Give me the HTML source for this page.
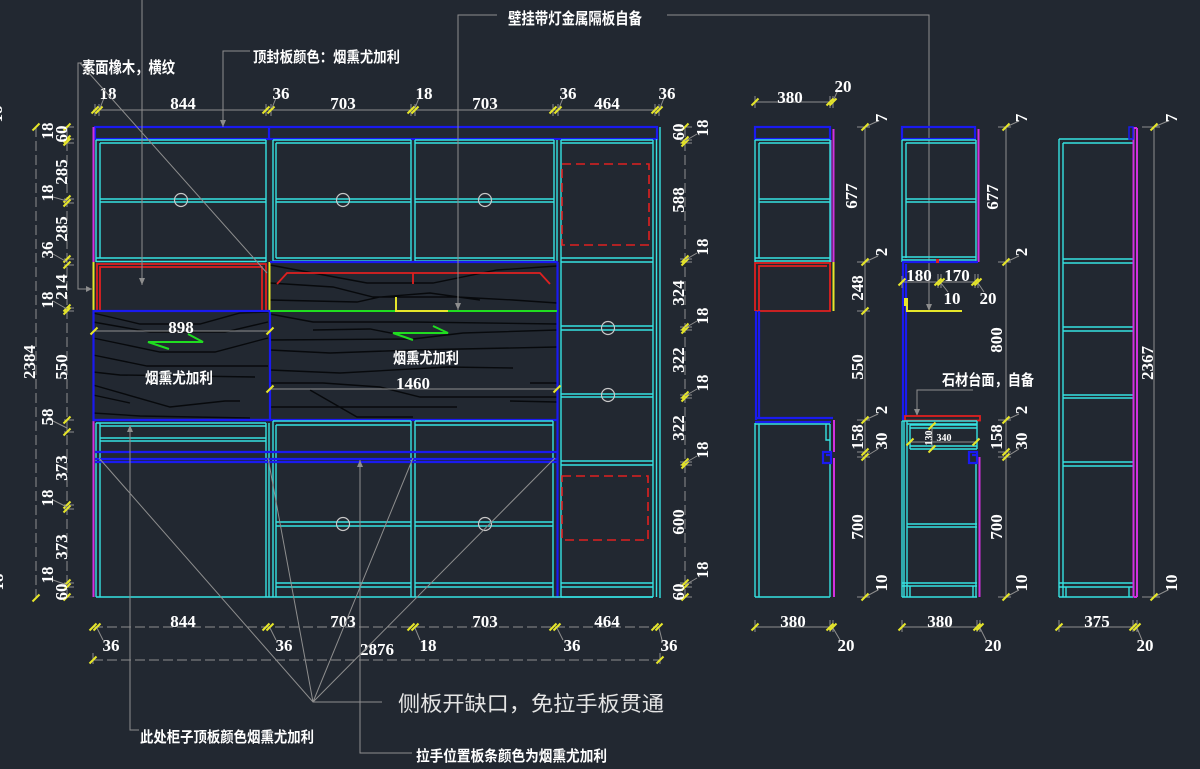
<!DOCTYPE html>
<html><head><meta charset="utf-8"><style>
html,body{margin:0;padding:0;background:#222831;}
svg{display:block}
.c{stroke:#35e2e2;stroke-width:1.4;fill:none}
.b{stroke:#1a1af0;stroke-width:2.2;fill:none}
.m{stroke:#d22fe0;stroke-width:2;fill:none}
.v{stroke:#9a5cf0;stroke-width:1.2;fill:none}
.r{stroke:#e02020;stroke-width:1.8;fill:none}
.rd{stroke:#e02020;stroke-width:1.6;fill:none;stroke-dasharray:9 5}
.y{stroke:#e6e62a;stroke-width:2;fill:none}
.g{stroke:#20dd20;stroke-width:2;fill:none}
.gr{stroke:#8e8e8e;stroke-width:1;fill:none}
.gd{stroke:#8e8e8e;stroke-width:1;fill:none;stroke-dasharray:10 4}
.k{stroke:#07090c;stroke-width:1.4;fill:none}
.h{stroke:#c8c8c8;stroke-width:1.2;fill:none}
text{fill:#fff}
.n{font-family:"Liberation Serif",serif;font-size:17px;font-weight:bold}
.ns{font-family:"Liberation Serif",serif;font-size:10px;font-weight:bold}
.z{font-family:"Liberation Sans","Noto Sans CJK SC",sans-serif;font-weight:bold;font-size:15px}
.zl{font-family:"Liberation Sans","Noto Sans CJK SC",sans-serif;font-size:21px;fill:#e4e4e4}
</style></head><body>
<svg width="1200" height="769" viewBox="0 0 1200 769">
<defs><path id="t" d="M-3.5,3.5L3.5,-3.5" stroke="#e6e62a" stroke-width="2"/></defs>
<rect width="1200" height="769" fill="#222831"/>

<!-- ============ MAIN CABINET ============ -->
<path class="k" d="M93,313L140,324L200,324L240,313L268,312M93,322L150,332L225,332L268,322M93,338L160,352L215,352L268,338M93,355L147,366L268,366M93,372L120,375L255,377M93,385L170,407L225,401L240,401M93,395L130,403M93,413L140,416L250,418"/>
<path class="k" d="M270,265L367,283L433,283L497,270L557,266M270,283L333,287L373,297L457,297L513,300L557,303M270,300L357,302L380,297L430,293L480,300M270,314L313,322L413,322L557,324M313,330L370,329L396,334M270,340L413,339L463,333L557,330M270,350L330,353L413,350L557,347M270,370L340,373L447,367L513,368M270,383L323,383L380,387L420,397L557,397M270,407L357,407L457,407M310,390L357,417L413,417M510,401L557,402M530,383L557,383"/>

<rect class="b" x="95" y="127" width="562" height="12"/>
<line class="b" x1="269" y1="127" x2="269" y2="139"/>
<line class="m" x1="93.5" y1="127" x2="93.5" y2="262"/>
<line class="m" x1="93.5" y1="420" x2="93.5" y2="597"/>
<path class="c" d="M653,140V597M656.5,139V597M660,127V598"/>

<path class="c" d="M96,140V262M100,143V258M96,140H266M100,143H266M100,199H266M100,202H266M96,258H266M96,261.5H266M266,140V262M273,140V262"/>
<path class="c" d="M273,140H411M276,143H411M276,199H411M276,202H411M276,258H411M273,261H411M276,143V258M411,140V262M415,140V262M415,140H554M415,143H554M415,199H554M415,202H554M415,258H554M415,261H554M554,140V262M557,140V262"/>
<path class="c" d="M561,140V597M561,140H653M561,143H653M561,258H653M561,262H653M561,326H653M561,330H653M561,394H653M561,397H653M561,461H653M561,465H653M561,583H653M561,587H653M561,597H653"/>
<rect class="rd" x="562" y="164" width="87" height="81"/>
<rect class="rd" x="562" y="476" width="86" height="64"/>
<circle class="h" cx="181" cy="200" r="6.5"/>
<circle class="h" cx="343" cy="200" r="6.5"/>
<circle class="h" cx="485" cy="200" r="6.5"/>
<circle class="h" cx="608" cy="328" r="6.5"/>
<circle class="h" cx="608" cy="395" r="6.5"/>

<line class="y" x1="93.5" y1="262" x2="93.5" y2="311"/>
<line class="y" x1="269.5" y1="262" x2="269.5" y2="311"/>
<path class="r" d="M97,311V264H266V311M100,311V267H262V311"/>
<rect class="b" x="93.5" y="311" width="176.5" height="109"/>
<line class="b" x1="270" y1="262" x2="558" y2="262" stroke-width="3"/>
<line class="b" x1="557.5" y1="262" x2="557.5" y2="598" stroke-width="2.6"/>
<line class="b" x1="93" y1="420" x2="558" y2="420"/>
<line class="g" x1="270" y1="311" x2="557" y2="311"/>
<path class="r" d="M277,284L287,273L540,273L550,284M413,273V284"/>
<path class="y" d="M396,297V311H448"/>
<path class="g" d="M188,334L203,342L148,342L169,349"/>
<path class="g" d="M433,326L448,333L393,333L413,340"/>
<text class="z" x="145" y="383" textLength="68" lengthAdjust="spacingAndGlyphs">烟熏尤加利</text>
<text class="z" x="393" y="363" textLength="66" lengthAdjust="spacingAndGlyphs">烟熏尤加利</text>
<line class="gr" x1="93" y1="331" x2="270" y2="331"/>
<use href="#t" x="94" y="331"/><use href="#t" x="270" y="331"/>
<text class="n" x="181" y="333" text-anchor="middle">898</text>
<line class="gr" x1="270" y1="389" x2="557" y2="389"/>
<use href="#t" x="270" y="389"/><use href="#t" x="557" y="389"/>
<text class="n" x="413" y="389" text-anchor="middle">1460</text>

<path class="c" d="M96,423V597M100,423V597M96,423H266M100,426H266M100,438H266M100,441H266M266,423V597M269,423V597M96,597H653"/>
<path class="c" d="M273,421V597M276,425V597M273,421H411M276,425H411M276,522H411M276,526H411M276,583H411M276,587H411M411,421V597M415,421V597M415,421H553M415,425H553M415,522H553M415,526H553M415,583H553M415,587H553M553,421V597"/>
<path class="b" d="M95,452H557M95,459H557M95,462H557" stroke-width="1.8"/>
<circle class="h" cx="343" cy="524" r="6.5"/>
<circle class="h" cx="485" cy="524" r="6.5"/>

<line class="gr" x1="93" y1="110" x2="660" y2="110"/>
<path class="gr" d="M95,104V116M99,104V116M266,104V116M271,104V116M411,104V116M415,104V116M553,104V116M558,104V116M655,104V116M659,104V116"/>
<use href="#t" x="95" y="110"/><use href="#t" x="99" y="110"/><use href="#t" x="266" y="110"/><use href="#t" x="271" y="110"/><use href="#t" x="411" y="110"/><use href="#t" x="415" y="110"/><use href="#t" x="553" y="110"/><use href="#t" x="558" y="110"/><use href="#t" x="655" y="110"/><use href="#t" x="659" y="110"/>
<text class="n" x="183" y="109" text-anchor="middle">844</text>
<text class="n" x="343" y="109" text-anchor="middle">703</text>
<text class="n" x="485" y="109" text-anchor="middle">703</text>
<text class="n" x="607" y="109" text-anchor="middle">464</text>
<path class="gr" d="M100,108L104,98M272,108L276,98M415,108L419,98M559,108L563,98M660,108L664,98"/>
<text class="n" x="108" y="99" text-anchor="middle">18</text>
<text class="n" x="281" y="99" text-anchor="middle">36</text>
<text class="n" x="424" y="99" text-anchor="middle">18</text>
<text class="n" x="568" y="99" text-anchor="middle">36</text>
<text class="n" x="667" y="99" text-anchor="middle">36</text>

<line class="gd" x1="93" y1="627" x2="660" y2="627"/>
<use href="#t" x="93" y="627"/><use href="#t" x="97" y="627"/><use href="#t" x="266" y="627"/><use href="#t" x="270" y="627"/><use href="#t" x="411" y="627"/><use href="#t" x="415" y="627"/><use href="#t" x="553" y="627"/><use href="#t" x="557" y="627"/><use href="#t" x="655" y="627"/><use href="#t" x="659" y="627"/>
<text class="n" x="183" y="627" text-anchor="middle">844</text>
<text class="n" x="343" y="627" text-anchor="middle">703</text>
<text class="n" x="485" y="627" text-anchor="middle">703</text>
<text class="n" x="607" y="627" text-anchor="middle">464</text>
<path class="gr" d="M97,628L103,640M270,628L276,640M415,628L420,640M557,628L563,640M659,628L662,640"/>
<text class="n" x="111" y="651" text-anchor="middle">36</text>
<text class="n" x="284" y="651" text-anchor="middle">36</text>
<text class="n" x="428" y="651" text-anchor="middle">18</text>
<text class="n" x="572" y="651" text-anchor="middle">36</text>
<text class="n" x="669" y="651" text-anchor="middle">36</text>
<line class="gd" x1="93" y1="660" x2="660" y2="660"/>
<line class="gr" x1="93" y1="653" x2="93" y2="664"/><line class="gr" x1="660" y1="653" x2="660" y2="664"/>
<use href="#t" x="93" y="660"/><use href="#t" x="660" y="660"/>
<text class="n" x="377" y="655" text-anchor="middle">2876</text>

<line class="gd" x1="36" y1="127" x2="36" y2="598"/>
<use href="#t" x="36" y="127"/><use href="#t" x="36" y="598"/>
<text class="n" text-anchor="middle" transform="translate(30,362) rotate(-90)" dy="5">2384</text>
<line class="gd" x1="67" y1="127" x2="67" y2="598"/>
<path class="gr" d="M64,127H74M64,139H74M64,143H74M64,199H74M64,203H74M64,259H74M64,265H74M64,308H74M64,311H74M64,420H74M64,432H74M64,505H74M64,509H74M64,583H74M64,587H74M64,597H74"/>
<use href="#t" x="67" y="127"/><use href="#t" x="67" y="139"/><use href="#t" x="67" y="142"/><use href="#t" x="67" y="199"/><use href="#t" x="67" y="203"/><use href="#t" x="67" y="259"/><use href="#t" x="67" y="265"/><use href="#t" x="67" y="308"/><use href="#t" x="67" y="311"/><use href="#t" x="67" y="420"/><use href="#t" x="67" y="432"/><use href="#t" x="67" y="505"/><use href="#t" x="67" y="509"/><use href="#t" x="67" y="583"/><use href="#t" x="67" y="587"/><use href="#t" x="67" y="597"/>
<path class="gr" d="M53,197L67,201M53,254L67,262M53,301L67,309M53,421L67,428M53,500L67,507M53,580L67,585"/>
<g class="n" text-anchor="middle">
<text transform="translate(48,131) rotate(-90)" dy="5">18</text>
<text transform="translate(62,134) rotate(-90)" dy="5">60</text>
<text transform="translate(62,172) rotate(-90)" dy="5">285</text>
<text transform="translate(48,193) rotate(-90)" dy="5">18</text>
<text transform="translate(62,229) rotate(-90)" dy="5">285</text>
<text transform="translate(48,250) rotate(-90)" dy="5">36</text>
<text transform="translate(62,287) rotate(-90)" dy="5">214</text>
<text transform="translate(48,300) rotate(-90)" dy="5">18</text>
<text transform="translate(62,367) rotate(-90)" dy="5">550</text>
<text transform="translate(48,417) rotate(-90)" dy="5">58</text>
<text transform="translate(62,468) rotate(-90)" dy="5">373</text>
<text transform="translate(48,498) rotate(-90)" dy="5">18</text>
<text transform="translate(62,547) rotate(-90)" dy="5">373</text>
<text transform="translate(48,575) rotate(-90)" dy="5">18</text>
<text transform="translate(62,592) rotate(-90)" dy="5">60</text>
<text transform="translate(-3,114) rotate(-90)" dy="5">18</text>
<text transform="translate(-2,582) rotate(-90)" dy="5">18</text>
</g>

<line class="gd" x1="685" y1="127" x2="685" y2="598"/>
<path class="gr" d="M680,127H692M680,140H692M680,143H692M680,259H692M680,262H692M680,327H692M680,330H692M680,395H692M680,398H692M680,462H692M680,465H692M680,583H692M680,587H692M680,597H692"/>
<use href="#t" x="685" y="127"/><use href="#t" x="685" y="140"/><use href="#t" x="685" y="143"/><use href="#t" x="685" y="259"/><use href="#t" x="685" y="262"/><use href="#t" x="685" y="327"/><use href="#t" x="685" y="330"/><use href="#t" x="685" y="395"/><use href="#t" x="685" y="398"/><use href="#t" x="685" y="462"/><use href="#t" x="685" y="465"/><use href="#t" x="685" y="583"/><use href="#t" x="685" y="587"/><use href="#t" x="685" y="597"/>
<path class="gr" d="M685,141L697,134M685,260L697,253M685,328L697,321M685,396L697,389M685,463L697,456M685,585L697,578"/>
<g class="n" text-anchor="middle">
<text transform="translate(679,132) rotate(-90)" dy="5">60</text>
<text transform="translate(703,128) rotate(-90)" dy="5">18</text>
<text transform="translate(679,200) rotate(-90)" dy="5">588</text>
<text transform="translate(703,247) rotate(-90)" dy="5">18</text>
<text transform="translate(679,293) rotate(-90)" dy="5">324</text>
<text transform="translate(703,316) rotate(-90)" dy="5">18</text>
<text transform="translate(679,360) rotate(-90)" dy="5">322</text>
<text transform="translate(703,383) rotate(-90)" dy="5">18</text>
<text transform="translate(679,428) rotate(-90)" dy="5">322</text>
<text transform="translate(703,450) rotate(-90)" dy="5">18</text>
<text transform="translate(679,522) rotate(-90)" dy="5">600</text>
<text transform="translate(703,570) rotate(-90)" dy="5">18</text>
<text transform="translate(679,592) rotate(-90)" dy="5">60</text>
</g>

<!-- ============ ANNOTATIONS ============ -->
<text class="z" x="82" y="73" textLength="93" lengthAdjust="spacingAndGlyphs" style="font-size:16px">素面橡木，横纹</text>
<path class="gr" d="M82,63H78V289H92M80,63L267,273"/>
<polygon points="86,286 92,289 86,292" fill="#8e8e8e"/>
<text class="z" x="253" y="62" textLength="147" lengthAdjust="spacingAndGlyphs">顶封板颜色：烟熏尤加利</text>
<path class="gr" d="M250,51H223V127"/>
<polygon points="220,120 226,120 223,127" fill="#8e8e8e"/>
<text class="z" x="508" y="24" textLength="134" lengthAdjust="spacingAndGlyphs" style="font-size:16px">壁挂带灯金属隔板自备</text>
<path class="gr" d="M497,15H458V310M667,15H929V311"/>
<polygon points="455,303 461,303 458,310" fill="#8e8e8e"/>
<polygon points="926,304 932,304 929,311" fill="#8e8e8e"/>
<line class="gr" x1="142" y1="0" x2="142" y2="285"/>
<polygon points="139,278 145,278 142,285" fill="#8e8e8e"/>
<path class="gr" d="M130,425V730H139"/>
<polygon points="127,432 133,432 130,425" fill="#8e8e8e"/>
<text class="z" x="140" y="742" textLength="174" lengthAdjust="spacingAndGlyphs">此处柜子顶板颜色烟熏尤加利</text>
<path class="gr" d="M360,460V753H412"/>
<polygon points="357,467 363,467 360,460" fill="#8e8e8e"/>
<text class="z" x="416" y="761" textLength="191" lengthAdjust="spacingAndGlyphs">拉手位置板条颜色为烟熏尤加利</text>
<path class="gr" d="M99,458L313,702L382,702M268,458L313,702M413,458L313,702M555,458L313,702"/>
<text class="zl" x="398" y="711" textLength="266" lengthAdjust="spacingAndGlyphs">侧板开缺口，免拉手板贯通</text>

<!-- ============ SIDE VIEW 1 ============ -->
<rect class="b" x="755" y="127" width="75" height="12"/>
<line class="m" x1="833.5" y1="129" x2="833.5" y2="262"/>
<line class="v" x1="831" y1="140" x2="831" y2="262"/>
<path class="c" d="M755,140V262M759,143V258M755,140H830M759,143H830M759,199H830M759,202H830M755,258H830M755,261H830M830,140V262"/>
<path class="r" d="M755,311V263H830V311H755M759,311V266H827"/>
<line class="y" x1="833.5" y1="262" x2="833.5" y2="311"/>
<path class="b" d="M756,311V420M759,311V418M755,418H833M755,422H831"/>
<path class="c" d="M755,423V597M759,424V597M755,424H830M830,424V452M830,463V597M755,597H830M826,424V440H830"/>
<path class="b" d="M823,452H831V463H823ZM826,455H831V460" stroke-width="1.8"/>
<path class="m" d="M834,420V452M834,458V597"/>
<line class="gr" x1="755" y1="102" x2="833" y2="102"/>
<path class="gr" d="M755,96V108M830,96V108M833,96V108M833,101L838,90"/>
<use href="#t" x="755" y="102"/><use href="#t" x="830" y="102"/><use href="#t" x="833" y="102"/>
<text class="n" x="790" y="103" text-anchor="middle">380</text>
<text class="n" x="843" y="92" text-anchor="middle">20</text>
<line class="gr" x1="865" y1="127" x2="865" y2="597"/>
<path class="gr" d="M857,127H870M857,262H870M857,311H870M857,420H870M857,452H870M857,457H870M857,597H870M865,127L878,121M865,262L878,256M865,420L878,414M865,457L878,449M865,597L878,590"/>
<use href="#t" x="865" y="127"/><use href="#t" x="865" y="262"/><use href="#t" x="865" y="311"/><use href="#t" x="865" y="420"/><use href="#t" x="865" y="452"/><use href="#t" x="865" y="457"/><use href="#t" x="865" y="597"/>
<g class="n" text-anchor="middle">
<text transform="translate(882,118) rotate(-90)" dy="5">7</text>
<text transform="translate(852,196) rotate(-90)" dy="5">677</text>
<text transform="translate(882,252) rotate(-90)" dy="5">2</text>
<text transform="translate(858,288) rotate(-90)" dy="5">248</text>
<text transform="translate(858,367) rotate(-90)" dy="5">550</text>
<text transform="translate(882,410) rotate(-90)" dy="5">2</text>
<text transform="translate(858,437) rotate(-90)" dy="5">158</text>
<text transform="translate(882,441) rotate(-90)" dy="5">30</text>
<text transform="translate(858,527) rotate(-90)" dy="5">700</text>
<text transform="translate(882,583) rotate(-90)" dy="5">10</text>
</g>
<line class="gr" x1="755" y1="627" x2="833" y2="627"/>
<path class="gr" d="M755,620V632M830,620V632M833,620V632M833,628L840,640"/>
<use href="#t" x="755" y="627"/><use href="#t" x="830" y="627"/><use href="#t" x="833" y="627"/>
<text class="n" x="793" y="627" text-anchor="middle">380</text>
<text class="n" x="846" y="651" text-anchor="middle">20</text>

<!-- ============ SIDE VIEW 2 ============ -->
<rect class="b" x="902" y="127" width="73" height="12"/>
<line class="m" x1="978.5" y1="129" x2="978.5" y2="262"/>
<path class="c" d="M902,140V262M906,143V258M902,140H976M906,143H976M906,199H976M906,202H976M902,257H976M902,260H976M976,140V262"/>
<line class="b" x1="902" y1="262" x2="978" y2="262" stroke-width="2.6"/>
<rect x="936" y="259" width="3" height="4" fill="#e02020"/>
<path class="b" d="M903,262V420M906,264V416"/>
<path class="y" d="M907,298V311H962"/>
<rect x="904" y="298" width="3" height="8" fill="#e6e62a"/>
<line class="gr" x1="902" y1="282" x2="978" y2="282"/>
<path class="gr" d="M902,276V288M938,274V288M941,274V288M975,274V288M978,274V288M941,283L948,292M978,283L984,292"/>
<use href="#t" x="902" y="282"/><use href="#t" x="938" y="282"/><use href="#t" x="941" y="282"/><use href="#t" x="975" y="282"/><use href="#t" x="978" y="282"/>
<text class="n" x="919" y="281" text-anchor="middle">180</text>
<text class="n" x="957" y="281" text-anchor="middle">170</text>
<text class="n" x="952" y="304" text-anchor="middle">10</text>
<text class="n" x="988" y="304" text-anchor="middle">20</text>
<text class="z" x="942" y="385" textLength="92" lengthAdjust="spacingAndGlyphs">石材台面，自备</text>
<path class="gr" d="M973,390H917V415"/>
<polygon points="914,409 920,409 917,416" fill="#8e8e8e"/>
<rect x="905" y="416" width="75" height="4.5" fill="none" stroke="#e02020" stroke-width="1.8"/>
<path class="c" d="M902,421V597M904,421V597M907,421V597M902,421H977M907,424H977M910,425H977M910,428H977M910,446H977M910,449H977M910,425V449M977,421V449M907,524H977M907,527H977M902,583H977M902,586H977M902,597H977M910,586V597M973,586V597M976,463V597"/>
<path class="b" d="M969,452H977V463H969ZM972,455H977V460" stroke-width="1.8"/>
<line class="m" x1="979.5" y1="457" x2="979.5" y2="597"/>
<line class="gr" x1="910" y1="442" x2="977" y2="442"/>
<line class="gr" x1="932" y1="425" x2="932" y2="450"/>
<use href="#t" x="910" y="442"/><use href="#t" x="976" y="442"/><use href="#t" x="932" y="426"/><use href="#t" x="932" y="449"/>
<text class="ns" text-anchor="middle" transform="translate(929,438) rotate(-90)" dy="3">130</text>
<text class="ns" x="944" y="441" text-anchor="middle">340</text>
<line class="gr" x1="1006" y1="127" x2="1006" y2="597"/>
<path class="gr" d="M998,127H1011M998,262H1011M998,420H1011M998,452H1011M998,457H1011M998,597H1011M1006,127L1019,121M1006,262L1019,256M1006,420L1019,414M1006,457L1019,449M1006,597L1019,590"/>
<use href="#t" x="1006" y="127"/><use href="#t" x="1006" y="262"/><use href="#t" x="1006" y="420"/><use href="#t" x="1006" y="452"/><use href="#t" x="1006" y="457"/><use href="#t" x="1006" y="597"/>
<g class="n" text-anchor="middle">
<text transform="translate(1022,118) rotate(-90)" dy="5">7</text>
<text transform="translate(993,197) rotate(-90)" dy="5">677</text>
<text transform="translate(1022,252) rotate(-90)" dy="5">2</text>
<text transform="translate(997,340) rotate(-90)" dy="5">800</text>
<text transform="translate(1022,410) rotate(-90)" dy="5">2</text>
<text transform="translate(997,437) rotate(-90)" dy="5">158</text>
<text transform="translate(1022,441) rotate(-90)" dy="5">30</text>
<text transform="translate(997,527) rotate(-90)" dy="5">700</text>
<text transform="translate(1022,583) rotate(-90)" dy="5">10</text>
</g>
<line class="gr" x1="902" y1="627" x2="980" y2="627"/>
<path class="gr" d="M902,620V632M977,620V632M980,620V632M980,628L986,640"/>
<use href="#t" x="902" y="627"/><use href="#t" x="977" y="627"/><use href="#t" x="980" y="627"/>
<text class="n" x="940" y="627" text-anchor="middle">380</text>
<text class="n" x="993" y="651" text-anchor="middle">20</text>

<!-- ============ SIDE VIEW 3 ============ -->
<path class="c" d="M1059,139V597M1063,143V597M1059,139H1133M1063,143H1133M1063,259H1133M1063,263H1133M1063,327H1133M1063,331H1133M1063,395H1133M1063,398H1133M1063,462H1133M1063,466H1133M1059,583H1133M1059,587H1133M1059,597H1133M1066,587V597M1129,587V597"/>
<path class="m" d="M1133.5,128V597M1137,128V597M1133.5,128H1137M1133.5,597H1137" stroke-width="1.6"/>
<rect x="1129" y="127" width="4" height="12" fill="none" stroke="#1a1af0" stroke-width="1.5"/>
<line class="gr" x1="1154" y1="127" x2="1154" y2="597"/>
<path class="gr" d="M1142,127H1160M1142,597H1160M1154,127L1168,121M1154,597L1168,590"/>
<use href="#t" x="1154" y="127"/><use href="#t" x="1154" y="597"/>
<g class="n" text-anchor="middle">
<text transform="translate(1172,118) rotate(-90)" dy="5">7</text>
<text transform="translate(1148,363) rotate(-90)" dy="5">2367</text>
<text transform="translate(1172,583) rotate(-90)" dy="5">10</text>
</g>
<line class="gr" x1="1059" y1="627" x2="1137" y2="627"/>
<path class="gr" d="M1059,620V632M1133,620V632M1137,620V632M1137,628L1142,640"/>
<use href="#t" x="1059" y="627"/><use href="#t" x="1133" y="627"/><use href="#t" x="1137" y="627"/>
<text class="n" x="1097" y="627" text-anchor="middle">375</text>
<text class="n" x="1145" y="651" text-anchor="middle">20</text>
</svg>
</body></html>
